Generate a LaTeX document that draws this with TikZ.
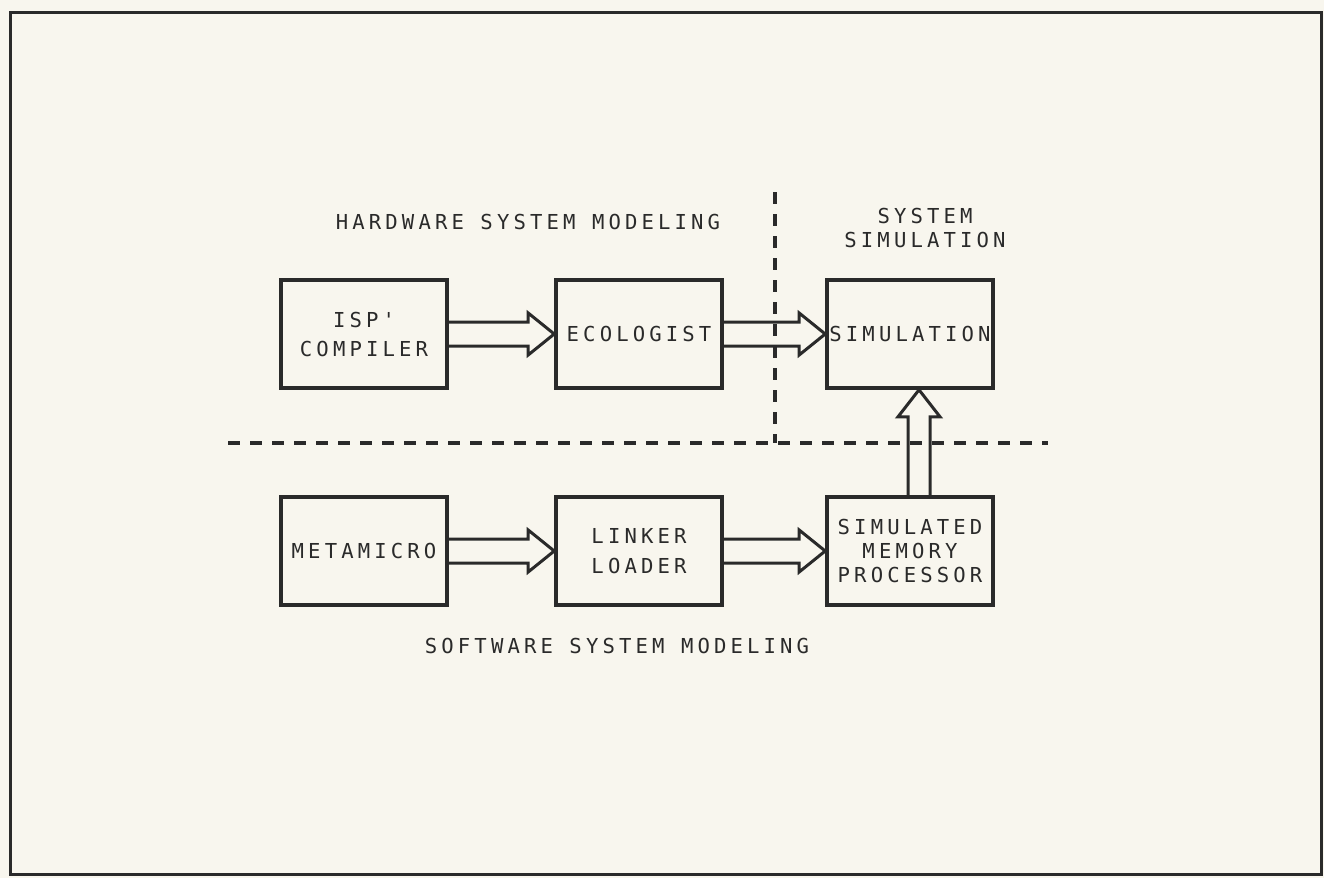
\documentclass[tikz,border=0pt]{standalone}
\usepackage{fontspec}
\newfontfamily\plotter{DejaVu Sans Mono}[LetterSpace=20]
\usetikzlibrary{calc}
\definecolor{paper}{HTML}{F8F6EE}
\definecolor{ink}{HTML}{2A2A2A}
\newcommand{\dblarrowH}[2]{%
  \draw[dbl] ($(#1.east)+(0,-12)$) -- ($(#2.west)+(-26,-12)$) -- ($(#2.west)+(-26,-21)$) -- (#2.west)
    -- ($(#2.west)+(-26,21)$) -- ($(#2.west)+(-26,12)$) -- ($(#1.east)+(0,12)$);}
\begin{document}
\begin{tikzpicture}[x=0.5pt,y=-0.5pt,
  txt/.style={text=ink, align=center, font=\plotter\fontsize{10.3}{12}\selectfont},
  box/.style={txt, draw=ink, line width=1.8pt, minimum width=83pt, minimum height=54pt, inner sep=0pt},
  dbl/.style={draw=ink, line width=1.5pt, line join=miter},
  sepline/.style={draw=ink, line width=1.6pt, dash pattern=on 6pt off 5pt}]
\fill[paper] (0,0) rectangle (1324,878);
\useasboundingbox (0,0) rectangle (1324,878);
\draw[ink, line width=1.5pt] (10,12) rectangle (1321,874);
% dashed separators
\coordinate (vtop) at (775,192);
\coordinate (corner) at (775,443);
\coordinate (hl) at (228,443);
\coordinate (hr) at (1048,443);
\draw[sepline] (vtop) -- (corner);
\draw[sepline] (hl) -- (hr);
% boxes
\node[box, font=\plotter\fontsize{10.3}{14.5}\selectfont] (isp) at (364,334) {ISP'\\COMPILER};
\node[box] (eco) at (639,334) {ECOLOGIST};
\node[box] (sim) at (910,334) {SIMULATION};
\node[box] (meta) at (364,551) {METAMICRO};
\node[box, font=\plotter\fontsize{10.3}{15}\selectfont] (link) at (639,551) {LINKER\\LOADER};
\node[box] (smp) at (910,551) {SIMULATED\\MEMORY\\PROCESSOR};
% labels
\node[txt] (hw) at (528,222) {HARDWARE SYSTEM MODELING};
\node[txt] (ss) at (925,228) {SYSTEM\\SIMULATION};
\node[txt] (sw) at (617,646) {SOFTWARE SYSTEM MODELING};
% arrows
\dblarrowH{isp}{eco}
\dblarrowH{eco}{sim}
\dblarrowH{meta}{link}
\dblarrowH{link}{smp}
\draw[dbl] ($(smp.north)+(-2,0)$) -- ($(sim.south)+(-2,27)$) -- ($(sim.south)+(-12,27)$) -- ($(sim.south)+(9,0)$)
  -- ($(sim.south)+(30,27)$) -- ($(sim.south)+(20,27)$) -- ($(smp.north)+(20,0)$);
\end{tikzpicture}
\end{document}
